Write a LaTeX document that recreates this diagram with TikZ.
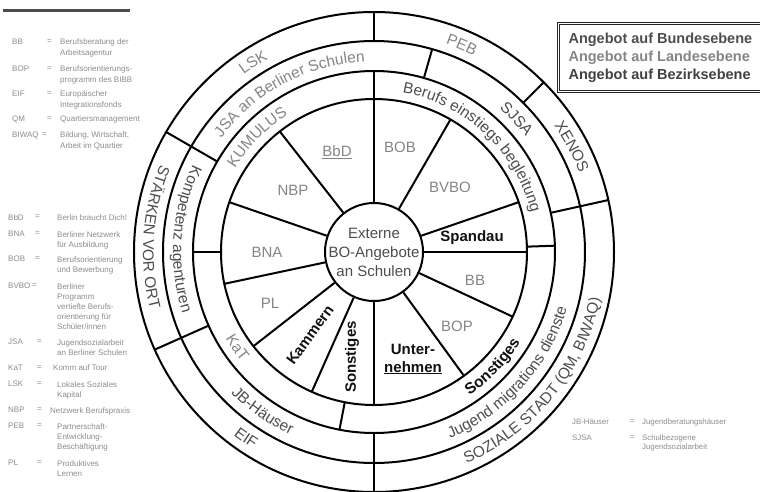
\documentclass[tikz,border=0pt]{standalone}
\usepackage{fontspec}
\setmainfont{Liberation Sans}
\usepackage{tikz}
\usepackage{xcolor}
\definecolor{bund}{HTML}{4D4D4D}
\definecolor{land}{HTML}{858585}
\definecolor{bezirk}{HTML}{111111}
\definecolor{legendgray}{HTML}{8C8C8C}
\usetikzlibrary{decorations.text}

\newcommand{\ringfont}{\fontsize{15.5}{15.5}\selectfont}

\tikzset{
  ringline/.style={line width=2pt, black},
  sector/.style={font=\fontsize{15}{18}\selectfont, text=land, inner sep=0pt},
  sectorbold/.style={font=\fontsize{15}{18}\selectfont\bfseries, text=bezirk, inner sep=0pt},
  ringtext/.style={decorate, decoration={text along path, text align=center, text={|\ringfont|#1}}},
  ringbold/.style={decorate, decoration={text along path, text align=center, text={|\ringfont\bfseries|#1}}},
  legend/.style={font=\fontsize{8}{10.2}\selectfont, text=legendgray, inner sep=0pt, anchor=north west, align=left},
  legendsmall/.style={font=\fontsize{7.8}{9}\selectfont, text=legendgray, inner sep=0pt, anchor=north west, align=left},
  legendbox/.style={draw=black!85, double, double distance=1.4pt, line width=1.1pt, inner xsep=10pt,
    minimum height=68pt, align=left, font=\fontsize{14.5}{18}\selectfont\bfseries},
}

\begin{document}
\begin{tikzpicture}[x=1pt,y=1pt]
\useasboundingbox (-374,-239) rectangle (386,252);

% Kreise
\node[circle, ringline, draw, minimum size=98pt, inner sep=0pt] (hub) at (0,0) {};
\node[font=\fontsize{15}{19}\selectfont, text=bund, align=center, inner sep=0pt] (hubtext) at (hub.center) {Externe\\BO-Angebote\\an Schulen};
\draw[ringline] (hub.center) circle[radius=153];
\draw[ringline] (hub.center) circle[radius=181];
\draw[ringline] (hub.center) circle[radius=211];
\draw[ringline] (hub.center) circle[radius=240];

% Speichen
\foreach \a in {90,60,19,0,335,306,270,246,218,192,161,128}
  \draw[ringline] (hub.\a) -- (\a:153);
\foreach \a in {90,2,-101,180}
  \draw[ringline] (\a:153) -- (\a:181);
\foreach \a in {150,12.5,-90,-156}
  \draw[ringline] (\a:181) -- (\a:240);
\draw[ringline] (74:181) -- (74:211);
\foreach \a in {90,45}
  \draw[ringline] (\a:211) -- (\a:240);

% innere Felder
\node[sector] (bbd) at (-37,100) {\underline{BbD}};
\node[sector] (bob) at (26,105) {BOB};
\node[sector] (bvbo) at (76,65) {BVBO};
\node[sectorbold] (spandau) at (98,14) {Spandau};
\node[sector] (bb) at (101,-28) {BB};
\node[sector] (bop) at (83,-74) {BOP};
\node[sectorbold, align=center] (untern) at (39,-107) {Unter-\\\underline{nehmen}};
\node[sectorbold, rotate=90] (sonst) at (-22,-105) {Sonstiges};
\node[sectorbold, rotate=54] (kammern) at (-64,-83) {Kammern};
\node[sector] (pl) at (-104,-51) {PL};
\node[sector] (bna) at (-107,0) {BNA};
\node[sector] (nbp) at (-81,62) {NBP};

% Ring innen
\path[ringtext={KUMULUS}, decoration={text color=land}] (178:162) arc[start angle=178, end angle=93, radius=162];
\path[ringtext={Berufs einstiegs begleitung}, decoration={text color=bund}] (89:162) arc[start angle=89, end angle=5, radius=162];
\path[ringbold={Sonstiges}, decoration={text color=bezirk}] (-99:172) arc[start angle=-99, end angle=11, radius=172];
\path[ringtext={KaT}, decoration={text color=land}] (-178:172) arc[start angle=-178, end angle=-112, radius=172];

% Ring mitte
\path[ringtext={JSA an Berliner Schulen}, decoration={text color=land}] (149:190.5) arc[start angle=149, end angle=87, radius=190.5];
\path[ringtext={SJSA}, decoration={text color=bund}] (72:190.5) arc[start angle=72, end angle=14, radius=190.5];
\path[ringtext={Jugend migrations dienste}, decoration={text color=bund}] (-88:201) arc[start angle=-88, end angle=4, radius=201];
\path[ringtext={JB-Häuser}, decoration={text color=bund}] (-154:201) arc[start angle=-154, end angle=-96, radius=201];
\path[ringtext={Kompetenz agenturen}, decoration={text color=bund}] (151:201) arc[start angle=151, end angle=201, radius=201];

% Ring aussen
\path[ringtext={LSK}, decoration={text color=land}] (147:220) arc[start angle=147, end angle=98, radius=220];
\path[ringtext={PEB}, decoration={text color=land}] (88:220) arc[start angle=88, end angle=46, radius=220];
\path[ringtext={XENOS}, decoration={text color=bund}] (44:220) arc[start angle=44, end angle=12, radius=220];
\path[ringtext={SOZIALE STADT (QM, BIWAQ)}, decoration={text color=bund}] (-88:231) arc[start angle=-88, end angle=10, radius=231];
\path[ringtext={EIF}, decoration={text color=bund}] (-153:231) arc[start angle=-153, end angle=-96, radius=231];
\path[ringtext={STÄRKEN VOR ORT}, decoration={text color=bund}] (151:231) arc[start angle=151, end angle=201, radius=231];

% Ebenen
\node[legendbox, anchor=north west] (ebenen) at (184,229) {\textcolor{bund}{Angebot auf Bundesebene}\\\textcolor{land}{Angebot auf Landesebene}\\\textcolor{bezirk!80}{Angebot auf Bezirksebene}};

% Legende links
\draw[line width=3pt, color=bund] (-371,242) -- (-244,242);
\node[legend] (lbb) at (-362,213) {BB};
\node[legend] (lbbeq) at (-327,213) {=};
\node[legend] (lbbtx) at (-314,213) {Berufsberatung der\\Arbeitsagentur};
\node[legend] (lbop) at (-362,186) {BOP};
\node[legend] (lbopeq) at (-327,186) {=};
\node[legend] (lboptx) at (-314,186) {Berufsorientierungs-\\programm des BIBB};
\node[legend] (leif) at (-362,161) {EIF};
\node[legend] (leifeq) at (-327,161) {=};
\node[legend] (leiftx) at (-314,161) {Europäischer\\Integrationsfonds};
\node[legend] (lqm) at (-362,136) {QM};
\node[legend] (lqmeq) at (-327,136) {=};
\node[legend] (lqmtx) at (-314,136) {Quartiersmanagement};
\node[legend] (lbiwaq) at (-362,120) {BIWAQ};
\node[legend] (lbiwaqeq) at (-332,120) {=};
\node[legend] (lbiwaqtx) at (-314,120) {Bildung, Wirtschaft,\\Arbeit im Quartier};

\node[legend] (lbbd) at (-366,38) {BbD};
\node[legend] (lbbdeq) at (-339,38) {=};
\node[legend] (lbbdtx) at (-317,38) {Berlin braucht Dich!};
\node[legend] (lbna) at (-366,21) {BNA};
\node[legend] (lbnaeq) at (-339,21) {=};
\node[legend] (lbnatx) at (-317,21) {Berliner Netzwerk\\für Ausbildung};
\node[legend] (lbob) at (-366,-4) {BOB};
\node[legend] (lbobeq) at (-339,-4) {=};
\node[legend] (lbobtx) at (-317,-4) {Berufsorientierung\\und Bewerbung};
\node[legend] (lbvbo) at (-366,-31) {BVBO};
\node[legend] (lbvboeq) at (-342,-31) {=};
\node[legend] (lbvbotx) at (-317,-31) {Berliner\\Programm\\vertiefte Berufs-\\orientierung für\\Schüler/innen};

\node[legend] (ljsa) at (-366,-87) {JSA};
\node[legend] (ljsaeq) at (-337,-87) {=};
\node[legend] (ljsatx) at (-317,-87) {Jugendsozialarbeit\\an Berliner Schulen};
\node[legend] (lkat) at (-366,-113) {KaT};
\node[legend] (lkateq) at (-337,-113) {=};
\node[legend] (lkattx) at (-321,-113) {Komm auf Tour};
\node[legend] (llsk) at (-366,-129) {LSK};
\node[legend] (llskeq) at (-337,-129) {=};
\node[legend] (llsktx) at (-317,-129) {Lokales Soziales\\Kapital};
\node[legend] (lnbp) at (-366,-155) {NBP};
\node[legend] (lnbpeq) at (-337,-155) {=};
\node[legend] (lnbptx) at (-324,-155) {Netzwerk Berufspraxis};
\node[legend] (lpeb) at (-366,-171) {PEB};
\node[legend] (lpebeq) at (-337,-171) {=};
\node[legend] (lpebtx) at (-317,-171) {Partnerschaft-\\Entwicklung-\\Beschäftigung};
\node[legend] (lpl) at (-366,-208) {PL};
\node[legend] (lpleq) at (-337,-208) {=};
\node[legend] (lpltx) at (-317,-208) {Produktives\\Lernen};

% Legende rechts
\node[legendsmall] (ljb) at (198,-167) {JB-Häuser};
\node[legendsmall] (ljbeq) at (256,-167) {=};
\node[legendsmall] (ljbtx) at (268,-167) {Jugendberatungshäuser};
\node[legendsmall] (lsjsa) at (198,-183) {SJSA};
\node[legendsmall] (lsjsaeq) at (256,-183) {=};
\node[legendsmall] (lsjsatx) at (268,-183) {Schulbezogene\\Jugendsozialarbeit};
\end{tikzpicture}
\end{document}
